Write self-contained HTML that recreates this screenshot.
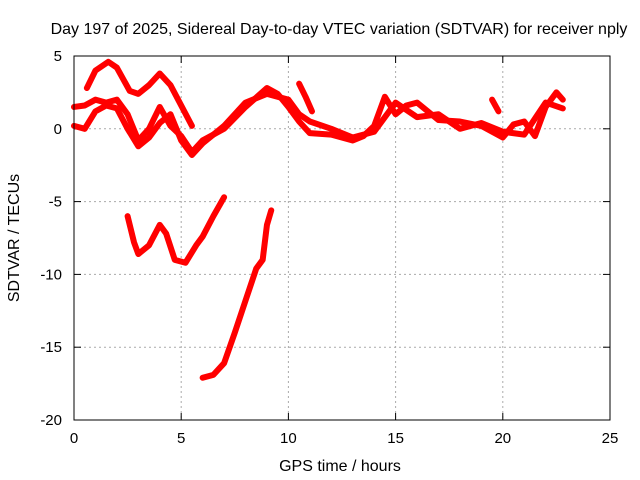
<!DOCTYPE html>
<html><head><meta charset="utf-8"><style>
body{margin:0;background:#fff;}
svg{display:block;font-family:"Liberation Sans",sans-serif;}
</style></head><body>
<svg id="chart" width="640" height="480">
<text x="339" y="34" text-anchor="middle" font-size="16">Day 197 of 2025, Sidereal Day-to-day VTEC variation (SDTVAR) for receiver nply</text>
<text x="340" y="471" text-anchor="middle" font-size="16">GPS time / hours</text>
<text transform="translate(19,238) rotate(-90)" text-anchor="middle" font-size="16">SDTVAR / TECUs</text>
<g id="grid"></g><g id="series"></g>
<rect x="74" y="56" width="536" height="364" fill="none" stroke="#000"/>
</svg>
<script>
const xTicks=[0,5,10,15,20,25];
const yTicks=[5,0,-5,-10,-15,-20];
const sA_x=[0.6,1.0,1.6,2.0,2.6,3.0,3.5,4.0,4.5,5.0,5.5];
const sA_y=[2.8,4.0,4.6,4.2,2.6,2.4,3.0,3.8,3.0,1.6,0.2];
const sB_x=[0,0.5,1,1.5,2,2.5,3,3.5,4,4.5,5,5.5,6,7,8,9,9.5,10,10.5,11,12,13,13.5,14,14.5,15,15.5,16,17,18,19,20,20.5,21,21.5,22,22.5,22.8];
const sB_y=[1.5,1.6,2.0,1.8,2.0,1.0,-0.8,0,1.5,0.2,-0.5,-1.6,-0.8,0,1.5,2.8,2.4,1.5,0.5,-0.3,-0.4,-0.8,-0.5,0.2,2.2,1.0,1.6,1.8,0.6,0.5,0.2,-0.6,0.3,0.5,-0.5,1.5,2.5,2.0];
const sC_x=[0,0.5,1,1.5,2,2.5,3,3.5,4,4.5,5,5.5,6,7,8,9,10,10.5,11,12,13,14,15,16,17,18,19,20,21,22,22.8];
const sC_y=[0.2,0,1.2,1.6,1.4,0,-1.2,-0.6,0.4,1.0,-0.8,-1.8,-1.0,0.2,1.8,2.4,2.0,1.0,0.5,0.0,-0.6,-0.2,1.8,0.8,1.0,0.0,0.4,-0.2,-0.4,1.8,1.4];
const sD_x=[2.5,2.8,3.0,3.5,4.0,4.3,4.7,5.2,5.7,6.0,6.5,7.0];
const sD_y=[-6.0,-7.8,-8.6,-8.0,-6.6,-7.2,-9.0,-9.2,-8.0,-7.4,-6.0,-4.7];
const sE_x=[6.0,6.5,7.0,7.5,8.0,8.5,8.8,9.0,9.2];
const sE_y=[-17.1,-16.9,-16.1,-14.0,-11.8,-9.6,-9.0,-6.6,-5.6];
const sF_x=[10.5,10.8,11.1];
const sF_y=[3.1,2.2,1.2];
const sG_x=[19.5,19.8];
const sG_y=[2.0,1.2];
const X=v=>74+v*536/25, Y=v=>56+(5-v)*364/25;
const ns="http://www.w3.org/2000/svg", g=document.getElementById('grid'), s=document.getElementById('series');
function mk(tag,at,p){const e=document.createElementNS(ns,tag);for(const k in at)e.setAttribute(k,at[k]);p.appendChild(e);return e;}
xTicks.forEach(t=>{
 if(t>0&&t<25){const l=mk('line',{x1:X(t),x2:X(t),y1:56,y2:420,stroke:'#aaa','stroke-dasharray':'2,3'},g);
 
 }
 mk('line',{x1:X(t),x2:X(t),y1:420,y2:413,stroke:'#000'},g);
 mk('line',{x1:X(t),x2:X(t),y1:56,y2:63,stroke:'#000'},g);
 const tx=mk('text',{x:X(t),y:443,'text-anchor':'middle','font-size':15},g);tx.textContent=t;
 
 
});
yTicks.forEach(t=>{
 if(t>-20&&t<5){const l=mk('line',{x1:74,x2:610,y1:Y(t),y2:Y(t),stroke:'#aaa','stroke-dasharray':'2,3'},g);
 
 }
 mk('line',{x1:74,x2:81,y1:Y(t),y2:Y(t),stroke:'#000'},g);
 mk('line',{x1:603,x2:610,y1:Y(t),y2:Y(t),stroke:'#000'},g);
 const tx=mk('text',{x:62,y:Y(t)+5,'text-anchor':'end','font-size':15},g);tx.textContent=t;
 
 
});
[[sA_x,sA_y],[sB_x,sB_y],[sC_x,sC_y],[sD_x,sD_y],[sE_x,sE_y],[sF_x,sF_y],[sG_x,sG_y]].forEach((d,i)=>{
 const p=mk('polyline',{points:d[0].map((x,j)=>X(x)+','+Y(d[1][j])).join(' '),fill:'none',stroke:'#f00','stroke-width':6,'stroke-linejoin':'round','stroke-linecap':'round'},s);
 
 
});
</script>
</body></html>
